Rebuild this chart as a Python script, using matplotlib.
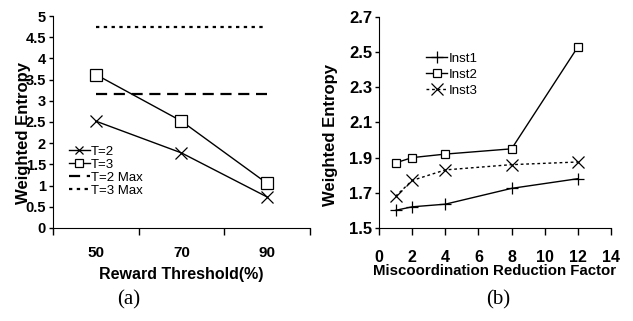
import matplotlib
matplotlib.use("Agg")
from matplotlib import pyplot as plt

# panel (a)
thresholds = ["50", "70", "90"]
t2 = [2.52, 1.77, 0.73]
t3 = [3.62, 2.52, 1.05]
t2_max = [3.17, 3.17, 3.17]
t3_max = [4.75, 4.75, 4.75]

# panel (b)
factors = [1, 2, 4, 8, 12]
inst1 = [1.60, 1.62, 1.635, 1.725, 1.78]
inst2 = [1.87, 1.90, 1.92, 1.95, 2.53]
inst3 = [1.68, 1.77, 1.83, 1.86, 1.875]

plt.rcParams["font.family"] = "Liberation Sans"

fig = plt.figure(figsize=(6.33, 3.21), dpi=100)
ax1 = fig.add_axes([0.0837, 0.29, 0.406, 0.66])
ax2 = fig.add_axes([0.5987, 0.29, 0.3666, 0.657])

for ax in (ax1, ax2):
    ax.spines["top"].set_visible(False)
    ax.spines["right"].set_visible(False)
    ax.tick_params(direction="out", length=3, width=1, pad=2)

xs = range(len(thresholds))
ax1.plot(xs, t2, color="black", lw=1, marker="x", ms=8, mew=0.9, label="T=2")
ax1.plot(xs, t3, color="black", lw=1, marker="s", ms=8, mfc="white", mew=0.9, label="T=3")
ax1.plot(xs, t2_max, color="black", lw=1.6, ls=(0, (5, 3)), label="T=2 Max")
ax1.plot(xs, t3_max, color="black", lw=1.6, ls=(0, (1.5, 2)), label="T=3 Max")
ax1.set_xlim(-0.5, 2.5)
ax1.set_ylim(0, 5)
ax1.set_yticks([0, 0.5, 1, 1.5, 2, 2.5, 3, 3.5, 4, 4.5, 5])
ax1.set_yticklabels(["0", "0.5", "1", "1.5", "2", "2.5", "3", "3.5", "4", "4.5", "5"],
                    fontweight="bold", fontsize=10.5)
ax1.set_xticks([-0.5, 0.5, 1.5, 2.5])
ax1.set_xticklabels([])
ax1.set_xticks(list(xs), minor=True)
ax1.set_xticklabels(thresholds, minor=True, fontweight="bold", fontsize=11)
ax1.tick_params(axis="x", which="minor", length=0, pad=13)
ax1.tick_params(axis="x", which="major", length=5)
ax1.set_xlabel("Reward Threshold(%)", fontweight="bold", fontsize=11.5, labelpad=5)
ax1.set_ylabel("Weighted Entropy", fontweight="bold", fontsize=12)
ax1.yaxis.set_label_coords(-0.085, 0.45)
ax1.legend(loc="lower left", bbox_to_anchor=(0.03, 0.11), frameon=False, fontsize=9.5,
           handlelength=1.6, handletextpad=0.1, labelspacing=0.05, borderpad=0.1,
           markerscale=0.7)

ax2.plot(factors, inst1, color="black", lw=1, marker="+", ms=8, mew=0.9, label="Inst1")
ax2.plot(factors, inst2, color="black", lw=1, marker="s", ms=5.5, mfc="white", mew=0.9, label="Inst2")
ax2.plot(factors, inst3, color="black", lw=1, ls=(0, (2, 2)), marker="x", ms=8, mew=0.9, label="Inst3")
ax2.set_xlim(0, 14)
ax2.set_ylim(1.5, 2.7)
ax2.set_xticks(range(0, 15, 2))
ax2.set_xticklabels([str(v) for v in range(0, 15, 2)], fontweight="bold", fontsize=11.5)
ax2.set_yticks([1.5, 1.7, 1.9, 2.1, 2.3, 2.5, 2.7])
ax2.set_yticklabels(["1.5", "1.7", "1.9", "2.1", "2.3", "2.5", "2.7"], fontweight="bold", fontsize=12)
ax2.tick_params(axis="x", length=5, pad=11)
ax2.set_xlabel("Miscoordination Reduction Factor", fontweight="bold", fontsize=10.8, labelpad=-1)
ax2.set_ylabel("Weighted Entropy", fontweight="bold", fontsize=12)
ax2.yaxis.set_label_coords(-0.175, 0.44)
ax2.legend(loc="upper left", bbox_to_anchor=(0.17, 0.87), frameon=False, fontsize=9.5,
           handlelength=1.6, handletextpad=0.1, labelspacing=0.3, borderpad=0.1)

fig.text(0.203, 0.05, "(a)", family="Liberation Serif", fontsize=15, ha="center")
fig.text(0.787, 0.05, "(b)", family="Liberation Serif", fontsize=15, ha="center")

fig.savefig("out.png", dpi=100)
